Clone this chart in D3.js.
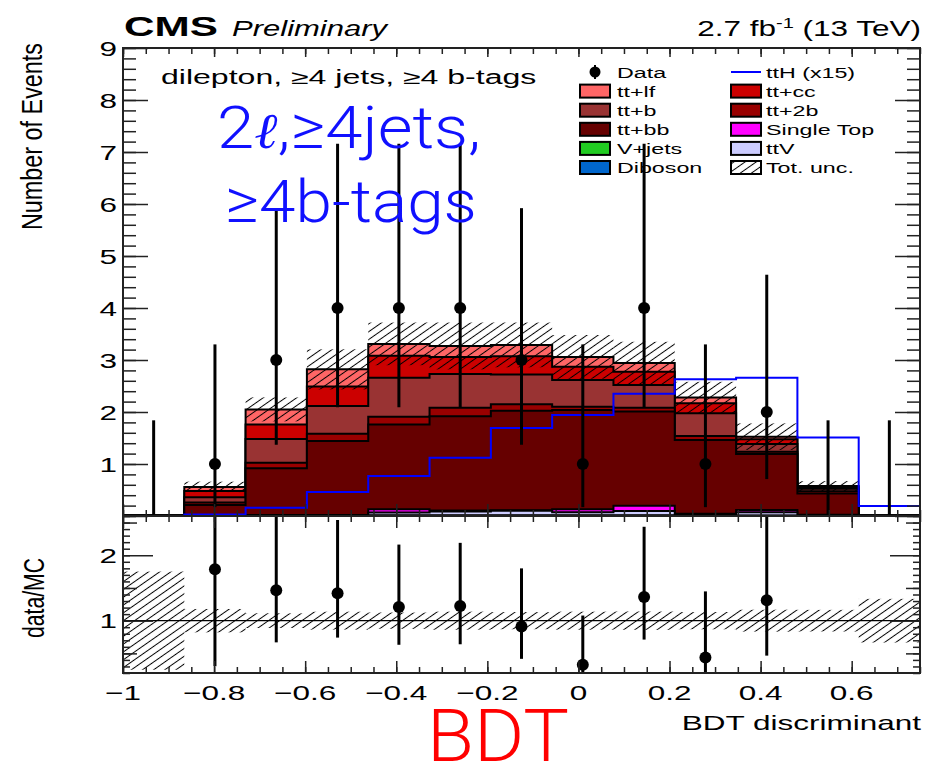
<!DOCTYPE html>
<html>
<head>
<meta charset="utf-8">
<script src="https://cdn.jsdelivr.net/npm/d3@7"></script>
<style>
  body { margin: 0; background: #fff; }
  text { font-family: "Liberation Sans", Arial, Helvetica, sans-serif; fill: #000; }
</style>
</head>
<body>
<svg id="chart" width="927" height="764"></svg>
<script>
// ---- binning of the BDT discriminant ----
const binEdges = [-1, -0.8654, -0.7308, -0.5962, -0.4615, -0.3269, -0.1923, -0.0577, 0.0769, 0.2115, 0.3462, 0.4808, 0.6154, 0.75];

// ---- observed data and its (Poisson) error bars ----
const dataCounts  = [0, 1, 3, 4, 4, 4, 3, 1, 4, 1, 2, 0, 0];
const dataErrLow  = [0, 0.83, 1.63, 1.91, 1.91, 1.91, 1.63, 0.83, 1.91, 0.83, 1.29, 0, 0];
const dataErrHigh = [1.84, 2.30, 2.92, 3.16, 3.16, 3.16, 2.92, 2.30, 3.16, 2.30, 2.64, 1.84, 1.84];

// ---- background processes (stacked, bottom to top) ----
const diboson   = [0, 0, 0, 0, 0.005, 0.005, 0.005, 0.005, 0.005, 0.005, 0.005, 0.002, 0];
const vjets     = [0, 0, 0, 0, 0.01, 0.01, 0.01, 0.01, 0.01, 0.01, 0.005, 0.003, 0];
const ttV       = [0, 0.005, 0.01, 0.01, 0.05, 0.07, 0.085, 0.055, 0.08, 0.02, 0.06, 0.01, 0];
const singleTop = [0, 0.005, 0.01, 0.01, 0.065, 0.02, 0.01, 0.06, 0.10, 0.01, 0.045, 0.01, 0];
const ttbb      = [0.008, 0.20, 0.90, 1.42, 1.63, 1.815, 1.915, 1.91, 1.815, 1.415, 1.075, 0.41, 0.012];
const tt2b      = [0, 0.05, 0.105, 0.14, 0.15, 0.16, 0.125, 0.06, 0.07, 0.08, 0.045, 0.04, 0];
const ttb       = [0, 0.10, 0.455, 0.535, 0.75, 0.65, 0.57, 0.515, 0.44, 0.435, 0.15, 0.05, 0];
const ttcc      = [0, 0.12, 0.28, 0.375, 0.42, 0.33, 0.35, 0.255, 0.255, 0.195, 0.09, 0.03, 0];
const ttlf      = [0, 0.08, 0.29, 0.33, 0.23, 0.21, 0.22, 0.19, 0.165, 0.11, 0.05, 0.02, 0];

// ---- total background uncertainty (absolute) ----
const totUnc = [0.006, 0.10, 0.23, 0.385, 0.41, 0.45, 0.43, 0.42, 0.41, 0.30, 0.255, 0.095, 0.004];

// ---- ttH signal, scaled by 15 ----
const ttH15 = [0, 0.03, 0.16, 0.46, 0.77, 1.12, 1.69, 1.94, 2.35, 2.63, 2.66, 1.51, 0.19];

// ---- axis tick labels ----
const xTickValues = [-1, -0.8, -0.6, -0.4, -0.2, 0, 0.2, 0.4, 0.6];
const xTickLabels = ["\u22121", "\u22120.8", "\u22120.6", "\u22120.4", "\u22120.2", "0", "0.2", "0.4", "0.6"];
const yTickValues = [1, 2, 3, 4, 5, 6, 7, 8, 9];
const ratioTickValues = [1, 2];

const layers = [
  { name: "Diboson",    color: "#0066cc", values: diboson },
  { name: "V+jets",     color: "#22cc22", values: vjets },
  { name: "ttV",        color: "#ccccff", values: ttV },
  { name: "Single Top", color: "#ff00ff", values: singleTop },
  { name: "tt+bb",      color: "#660000", values: ttbb },
  { name: "tt+2b",      color: "#990000", values: tt2b },
  { name: "tt+b",       color: "#993333", values: ttb },
  { name: "tt+cc",      color: "#cc0000", values: ttcc },
  { name: "tt+lf",      color: "#ff6666", values: ttlf }
];

// ---- geometry ----
const L = 123, R = 920, mainTop = 48, mainBot = 516, ratBot = 673;
const TXT = 1.5;   // horizontal text stretch of the ROOT labels

const x  = d3.scaleLinear().domain([-1, 0.75]).range([L, R]);
const y  = d3.scaleLinear().domain([0, 9]).range([mainBot, mainTop]);
const yr = d3.scaleLinear().domain([0.2, 2.6]).range([ratBot, mainBot]);

const nb = dataCounts.length;
const cumul = [];
let run = new Array(nb).fill(0);
layers.forEach(l => { run = run.map((v, i) => v + l.values[i]); cumul.push(run.slice()); });
const totals = cumul[cumul.length - 1];
const centers = d3.range(nb).map(i => (binEdges[i] + binEdges[i + 1]) / 2);

const svg = d3.select("#chart");
const defs = svg.append("defs");
defs.append("clipPath").attr("id", "clipMain")
  .append("rect").attr("x", L).attr("y", mainTop).attr("width", R - L).attr("height", mainBot - mainTop);
defs.append("clipPath").attr("id", "clipRatio")
  .append("rect").attr("x", L).attr("y", mainBot).attr("width", R - L).attr("height", ratBot - mainBot);
const hatch = defs.append("pattern").attr("id", "hatch")
  .attr("patternUnits", "userSpaceOnUse").attr("width", 12).attr("height", 6.4)
  .attr("patternTransform", "rotate(-35)");
hatch.append("line").attr("x1", -1).attr("x2", 13).attr("y1", 3.2).attr("y2", 3.2)
  .attr("stroke", "#000").attr("stroke-width", 1);

// helper: stretch a text horizontally so it spans a given width
function fitText(t, px, py, target) {
  t.attr("x", 0).attr("y", 0);
  const w = t.node().getBBox().width;
  t.attr("transform", `translate(${px},${py}) scale(${target / w},1)`);
  return t;
}

// step points for a per-bin array
const stepPts = arr => binEdges.map((e, i) => ({ x: e, v: arr[Math.min(i, nb - 1)] }));

// ================= main panel =================
const gMain = svg.append("g").attr("clip-path", "url(#clipMain)");

const area = d3.area().curve(d3.curveStepAfter)
  .x(d => x(d.x)).y0(y(0)).y1(d => y(d.v));
for (let i = layers.length - 1; i >= 0; i--) {
  gMain.append("path").attr("d", area(stepPts(cumul[i])))
    .attr("fill", layers[i].color).attr("stroke", "#000").attr("stroke-width", 2)
    .attr("stroke-linejoin", "miter");
}

// total uncertainty band
gMain.selectAll("rect.unc").data(d3.range(nb)).join("rect").attr("class", "unc")
  .attr("x", i => x(binEdges[i])).attr("width", i => x(binEdges[i + 1]) - x(binEdges[i]))
  .attr("y", i => y(totals[i] + totUnc[i]))
  .attr("height", i => y(totals[i] - totUnc[i]) - y(totals[i] + totUnc[i]))
  .attr("fill", "url(#hatch)");

// ttH (x15) line
const stepLine = d3.line().curve(d3.curveStepAfter).x(d => x(d.x)).y(d => y(d.v));
gMain.append("path").attr("d", stepLine(stepPts(ttH15)))
  .attr("fill", "none").attr("stroke", "#0000ff").attr("stroke-width", 2);

// data
gMain.selectAll("line.derr").data(d3.range(nb)).join("line").attr("class", "derr")
  .attr("x1", i => x(centers[i])).attr("x2", i => x(centers[i]))
  .attr("y1", i => y(dataCounts[i] - dataErrLow[i])).attr("y2", i => y(dataCounts[i] + dataErrHigh[i]))
  .attr("stroke", "#000").attr("stroke-width", 3);
gMain.selectAll("circle.dpt").data(d3.range(nb).filter(i => dataCounts[i] > 0)).join("circle").attr("class", "dpt")
  .attr("cx", i => x(centers[i])).attr("cy", i => y(dataCounts[i])).attr("r", 6).attr("fill", "#000");

// ================= ratio panel =================
const gRat = svg.append("g").attr("clip-path", "url(#clipRatio)");
gRat.selectAll("rect.runc").data(d3.range(nb)).join("rect").attr("class", "runc")
  .attr("x", i => x(binEdges[i])).attr("width", i => x(binEdges[i + 1]) - x(binEdges[i]))
  .attr("y", i => yr(1 + totUnc[i] / totals[i]))
  .attr("height", i => yr(1 - totUnc[i] / totals[i]) - yr(1 + totUnc[i] / totals[i]))
  .attr("fill", "url(#hatch)");
gRat.append("line").attr("x1", L).attr("x2", R).attr("y1", yr(1)).attr("y2", yr(1))
  .attr("stroke", "#000").attr("stroke-width", 1.2);
const withData = d3.range(nb).filter(i => dataCounts[i] > 0);
gRat.selectAll("line.rerr").data(withData).join("line").attr("class", "rerr")
  .attr("x1", i => x(centers[i])).attr("x2", i => x(centers[i]))
  .attr("y1", i => yr((dataCounts[i] - dataErrLow[i]) / totals[i]))
  .attr("y2", i => yr((dataCounts[i] + dataErrHigh[i]) / totals[i]))
  .attr("stroke", "#000").attr("stroke-width", 3);
gRat.selectAll("circle.rpt").data(withData).join("circle").attr("class", "rpt")
  .attr("cx", i => x(centers[i])).attr("cy", i => yr(dataCounts[i] / totals[i])).attr("r", 6).attr("fill", "#000");

// ================= axes, ticks and frames =================
const xMinor = d3.range(-1, 0.7501, 0.05);
function tickAxis(axisFn, scale, values, size, tx, ty) {
  const g = svg.append("g").attr("transform", `translate(${tx},${ty})`)
    .call(axisFn(scale).tickValues(values).tickSize(size).tickFormat(""));
  g.select(".domain").remove();
  g.selectAll(".tick line").attr("stroke", "#222").attr("stroke-width", 1.5);
  return g;
}
// main panel ticks
tickAxis(d3.axisLeft, y, d3.range(0, 9.001, 0.2), -13, L, 0);
tickAxis(d3.axisLeft, y, d3.range(0, 9.001, 1), -25, L, 0);
tickAxis(d3.axisRight, y, d3.range(0, 9.001, 0.2), -13, R, 0);
tickAxis(d3.axisRight, y, d3.range(0, 9.001, 1), -25, R, 0);
tickAxis(d3.axisTop, x, xMinor, -6, 0, mainTop);
tickAxis(d3.axisTop, x, xTickValues, -9, 0, mainTop);
tickAxis(d3.axisBottom, x, xMinor, -6, 0, mainBot);
tickAxis(d3.axisBottom, x, xTickValues, -12, 0, mainBot);
// ratio panel ticks
tickAxis(d3.axisLeft, yr, d3.range(0.2, 2.601, 0.1), -7, L, 0);
tickAxis(d3.axisLeft, yr, [0.5, 1.5, 2.5], -14, L, 0);
tickAxis(d3.axisLeft, yr, ratioTickValues, -30, L, 0);
tickAxis(d3.axisRight, yr, d3.range(0.2, 2.601, 0.1), -7, R, 0);
tickAxis(d3.axisRight, yr, [0.5, 1.5, 2.5], -14, R, 0);
tickAxis(d3.axisRight, yr, ratioTickValues, -30, R, 0);
tickAxis(d3.axisTop, x, xMinor, -6, 0, mainBot);
tickAxis(d3.axisTop, x, xTickValues, -12, 0, mainBot);
tickAxis(d3.axisBottom, x, xMinor, -6, 0, ratBot);
tickAxis(d3.axisBottom, x, xTickValues, -12, 0, ratBot);

// frames
svg.append("rect").attr("x", L).attr("y", mainTop).attr("width", R - L).attr("height", mainBot - mainTop)
  .attr("fill", "none").attr("stroke", "#222").attr("stroke-width", 2);
svg.append("rect").attr("x", L).attr("y", mainBot).attr("width", R - L).attr("height", ratBot - mainBot)
  .attr("fill", "none").attr("stroke", "#222").attr("stroke-width", 2);

// tick labels
const labFont = 21;
svg.append("g").selectAll("text").data(yTickValues).join("text")
  .attr("text-anchor", "end").attr("font-size", labFont)
  .attr("transform", d => `translate(117,${y(d) + 7.5}) scale(${TXT},1)`)
  .text(d => d);
svg.append("g").selectAll("text").data(ratioTickValues).join("text")
  .attr("text-anchor", "end").attr("font-size", labFont)
  .attr("transform", d => `translate(117,${yr(d) + 7.5}) scale(${TXT},1)`)
  .text(d => d);
svg.append("g").selectAll("text").data(xTickValues).join("text")
  .attr("text-anchor", "middle").attr("font-size", labFont)
  .attr("transform", d => `translate(${x(d)},700) scale(${TXT},1)`)
  .text((d, i) => xTickLabels[i]);

// axis titles
svg.append("text").attr("font-size", 20).attr("text-anchor", "end")
  .attr("textLength", 187).attr("lengthAdjust", "spacingAndGlyphs")
  .attr("transform", "translate(42,43) scale(1.45,1) rotate(-90)")
  .text("Number of Events");
svg.append("text").attr("font-size", 20).attr("text-anchor", "end")
  .attr("textLength", 80).attr("lengthAdjust", "spacingAndGlyphs")
  .attr("transform", "translate(44,558) scale(1.45,1) rotate(-90)")
  .text("data/MC");
fitText(svg.append("text").attr("font-size", 20).attr("text-anchor", "end").text("BDT discriminant"), 921, 730, 240);

// header
fitText(svg.append("text").attr("font-size", 28).attr("font-weight", "bold").text("CMS"), 124, 36, 94);
fitText(svg.append("text").attr("font-size", 22).attr("font-style", "italic").text("Preliminary"), 232, 36, 158);
const lumi = svg.append("text").attr("font-size", 22).attr("text-anchor", "end");
lumi.append("tspan").text("2.7 fb");
lumi.append("tspan").attr("font-size", 14).attr("dy", -8).text("-1");
lumi.append("tspan").attr("dy", 8).text(" (13 TeV)");
fitText(lumi, 921, 36, 224);

// selection label
fitText(svg.append("text").attr("font-size", 19.5).text("dilepton, \u22654 jets, \u22654 b-tags"), 161, 84, 376);

// large category labels
const blue = "#1010ff";
const big1 = svg.append("text").attr("font-size", 60).style("font-family", "Roboto, 'Liberation Sans', sans-serif")
  .attr("font-weight", 300).style("fill", blue);
big1.append("tspan").text("2");
big1.append("tspan").style("font-family", "'DejaVu Serif', serif").attr("font-style", "italic").attr("font-size", 50).text("\u2113");
big1.append("tspan").text(",\u22654jets,");
fitText(big1, 217, 148, 264);
fitText(svg.append("text").attr("font-size", 60).style("font-family", "Roboto, 'Liberation Sans', sans-serif")
  .attr("font-weight", 300).style("fill", blue).text("\u22654b-tags"), 225, 222, 252);
fitText(svg.append("text").attr("font-size", 73).style("font-family", "Roboto, 'Liberation Sans', sans-serif")
  .attr("font-weight", 300).style("fill", "#ff0000").text("BDT"), 427, 761, 142);

// ================= legend =================
const leg = svg.append("g");
const rowY = i => 72 + i * 19.1;
const col1 = [
  { label: "Data", kind: "data" },
  { label: "tt+lf", color: "#ff6666" },
  { label: "tt+b", color: "#993333" },
  { label: "tt+bb", color: "#660000" },
  { label: "V+jets", color: "#22cc22" },
  { label: "Diboson", color: "#0066cc" }
];
const col2 = [
  { label: "ttH (x15)", kind: "line" },
  { label: "tt+cc", color: "#cc0000" },
  { label: "tt+2b", color: "#990000" },
  { label: "Single Top", color: "#ff00ff" },
  { label: "ttV", color: "#ccccff" },
  { label: "Tot. unc.", kind: "hatch" }
];
function drawLegendCol(entries, bx, tx) {
  entries.forEach((e, i) => {
    const cy = rowY(i);
    if (e.kind === "data") {
      leg.append("line").attr("x1", bx + 15).attr("x2", bx + 15).attr("y1", cy - 7).attr("y2", cy + 7)
        .attr("stroke", "#000").attr("stroke-width", 2);
      leg.append("circle").attr("cx", bx + 15).attr("cy", cy).attr("r", 5.5).attr("fill", "#000");
    } else if (e.kind === "line") {
      leg.append("line").attr("x1", bx).attr("x2", bx + 30).attr("y1", cy).attr("y2", cy)
        .attr("stroke", "#0000ff").attr("stroke-width", 2);
    } else {
      leg.append("rect").attr("x", bx).attr("y", cy - 6.5).attr("width", 30).attr("height", 13)
        .attr("fill", e.kind === "hatch" ? "url(#hatch)" : e.color)
        .attr("stroke", "#000").attr("stroke-width", 2);
    }
    leg.append("text").attr("font-size", 15.5)
      .attr("transform", `translate(${tx},${cy + 5.5}) scale(${TXT},1)`).text(e.label);
  });
}
drawLegendCol(col1, 580, 617);
drawLegendCol(col2, 731, 766);
</script>
</body>
</html>
